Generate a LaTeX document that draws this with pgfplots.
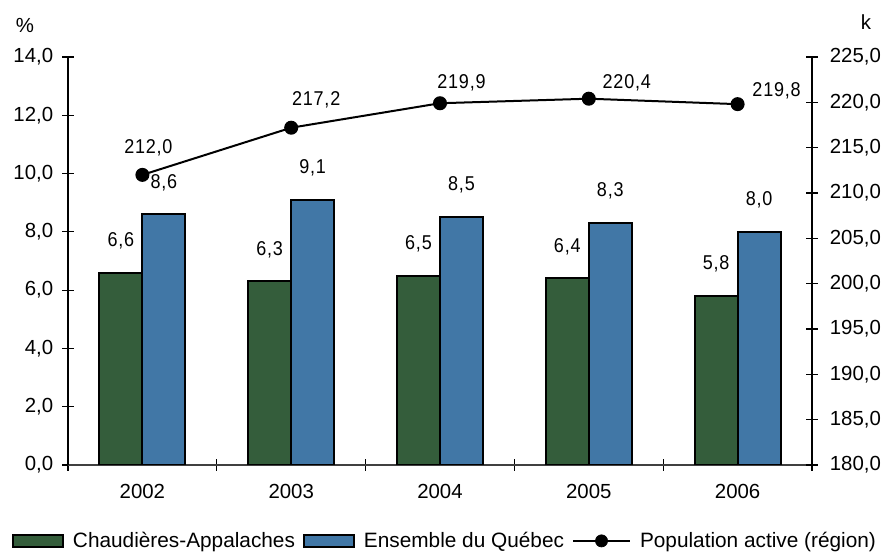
\documentclass[border=0pt]{standalone}
\usepackage{fontspec}
\setmainfont{Liberation Sans}
\newfontfamily\lblfont[FakeStretch=0.9,LetterSpace=4]{Liberation Sans}
\usepackage{pgfplots}
\pgfplotsset{compat=1.18}
\definecolor{cgreen}{RGB}{52,93,59}
\definecolor{cblue}{RGB}{65,119,166}

\pgfplotstableread{
x ca qc
0 6.6 8.6
1 6.3 9.1
2 6.5 8.5
3 6.4 8.3
4 5.8 8.0
}\bars

\pgfplotstableread{
x pop lab dx dy
0 212.0 {212,0} 3 13.5
1 217.2 {217,2} 12.5 14
2 219.9 {219,9} 10.75 10
3 220.4 {220,4} 19 8
4 219.8 {219,8} 19.5 6.5
}\popdata

\begin{document}
\begin{tikzpicture}
\useasboundingbox (0,0) rectangle (441pt,275.5pt);
\begin{axis}[
  at={(34pt,43pt)}, anchor=south west, scale only axis,
  width=372pt, height=204pt,
  xmin=-0.5, xmax=4.5, ymin=0, ymax=14,
  axis x line*=bottom, axis y line*=left,
  axis line style={-, line width=0.6pt},
  x axis line style={black!75},
  xtick={0,...,4}, xticklabels={2002,2003,2004,2005,2006},
  major x tick style={draw=none},
  minor xtick={-0.5,0.5,1.5,2.5,3.5,4.5},
  ytick={0,2,...,14},
  tick align=center, major tick length=5.8pt, minor tick length=5.8pt,
  tick style={black, line width=0.6pt},
  /pgf/number format/assume math mode=true,
  ticklabel style={font=\fontsize{10.2}{12}\selectfont},
  yticklabel style={xshift=-1pt, /pgf/number format/.cd, use comma, fixed, fixed zerofill, precision=1},
  xticklabel style={yshift=-3pt},
  legend style={at={(0.508,-0.186)}, anchor=center, draw=none, fill=none,
    font=\fontsize{10.4}{12}\selectfont, legend columns=3,
    /tikz/every even column/.append style={column sep=2pt},
    /tikz/every odd column/.append style={column sep=2.5pt},
    inner sep=0pt},
  nodes near coords={\lblfont\pgfmathprintnumber[use comma,fixed,fixed zerofill,precision=1]{\pgfplotspointmeta}},
  every node near coord/.append style={anchor=center, yshift=16pt, font=\fontsize{10}{12}\selectfont},
]
\addplot[ybar, bar width=21.5pt, bar shift=-10.75pt, fill=cgreen, draw=black, line width=1pt,
  every node near coord/.append style={xshift=-10.75pt},
  legend image code/.code={\draw[fill=cgreen, draw=black, line width=1pt] (0pt,-3pt) rectangle (25pt,3pt);}]
  table[x=x, y=ca] {\bars};
\addlegendentry{Chaudières-Appalaches}
\addplot[ybar, bar width=21.5pt, bar shift=10.75pt, fill=cblue, draw=black, line width=1pt,
  every node near coord/.append style={xshift=10.75pt},
  legend image code/.code={\draw[fill=cblue, draw=black, line width=1pt] (0pt,-3pt) rectangle (25pt,3pt);}]
  table[x=x, y=qc] {\bars};
\addlegendentry{Ensemble du Québec}
\addlegendimage{legend image code/.code={\draw[black, line width=1pt] (0pt,0pt) -- (28.5pt,0pt); \fill[black] (14.25pt,0pt) circle (3pt);}}
\addlegendentry{Population active (région)}
\end{axis}
\begin{axis}[
  at={(34pt,43pt)}, anchor=south west, scale only axis,
  width=372pt, height=204pt,
  xmin=-0.5, xmax=4.5, ymin=180, ymax=225,
  axis x line=none, axis y line*=right,
  axis line style={-, line width=0.6pt},
  ytick={180,185,...,225},
  tick align=center, major tick length=5.8pt,
  tick style={black, line width=0.6pt},
  /pgf/number format/assume math mode=true,
  ticklabel style={font=\fontsize{10.2}{12}\selectfont},
  yticklabel style={xshift=2.5pt, /pgf/number format/.cd, use comma, fixed, fixed zerofill, precision=1},
]
\addplot[black, line width=1pt, mark=*, mark size=3pt,
  nodes near coords, point meta=explicit symbolic,
  visualization depends on={\thisrow{dx}\as\dx},
  visualization depends on={\thisrow{dy}\as\dy},
  every node near coord/.append style={anchor=center, xshift=\dx pt, yshift=\dy pt, font=\fontsize{10}{12}\selectfont\lblfont}]
  table[x=x, y=pop, meta=lab] {\popdata};
\end{axis}
\node[font=\fontsize{10.2}{12}\selectfont] at (12.5pt,263pt) {\%};
\node[font=\fontsize{10.2}{12}\selectfont] at (433pt,264.5pt) {k};
\end{tikzpicture}
\end{document}
